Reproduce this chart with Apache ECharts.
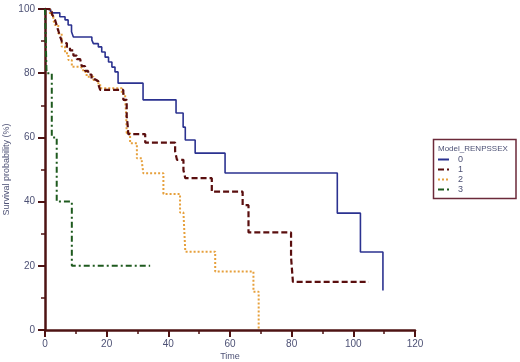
<!DOCTYPE html>
<html>
<head>
<meta charset="utf-8">
<script src="https://cdn.jsdelivr.net/npm/echarts@6/dist/echarts.min.js"></script>
<style>
  html, body { margin: 0; padding: 0; background: #fff; }
  #eChart { width: 520px; height: 362px; }
</style>
</head>
<body>
<div id="eChart"></div>
<script>
// survival curves (time, survival %)
var time0 = [0, 1.8, 4.8, 6.5, 7.5, 8.6, 9.2, 15.2, 15.7, 17.3, 18.4, 19.5, 20.6, 21.7, 22.7, 23.7, 31.8, 42.5, 44.8, 45.5, 48.7, 58.4, 94.8, 102.3, 109.6];
var surv0 = [100, 98.8, 97.6, 96.6, 95, 92.9, 91.3, 90.3, 89.2, 88.2, 86.6, 85, 83.5, 81.9, 80.4, 76.9, 71.7, 67.6, 63.2, 59.2, 55.1, 48.9, 36.4, 24.3, 12.3];

var time1 = [0, 1.5, 2.2, 2.8, 3.3, 3.9, 4.4, 4.9, 5.5, 6.1, 7.1, 8.1, 9.2, 10.3, 11.4, 11.9, 13.0, 14.0, 15.1, 16.2, 17.3, 17.9, 25.4, 26.5, 26.8, 27.0, 32.5, 42.2, 42.8, 44.9, 45.5, 54.1, 64.1, 66.0, 79.8, 80.4, 105];
var surv1 = [100, 99.2, 98.5, 97.5, 96.5, 94.5, 93.0, 91.4, 89.8, 89.3, 88.2, 87.1, 85.5, 84.4, 83.8, 82.2, 80.7, 79.6, 78.1, 77.5, 76.5, 74.8, 71.7, 66.5, 63.9, 61.0, 58.4, 55.6, 53.0, 49.8, 47.3, 43.1, 38.9, 30.4, 22.7, 15.0, 15.0];

var time2 = [0, 1.6, 2.7, 3.2, 4.3, 5.4, 6.5, 7.6, 8.7, 11.4, 12.4, 13.5, 15.7, 16.8, 17.9, 24.9, 26.0, 26.3, 26.5, 27.6, 29.8, 31.4, 31.9, 38.4, 43.8, 44.9, 45.5, 55.2, 67.6, 69.3];
var surv2 = [100, 98.1, 96.6, 95.0, 92.4, 88.3, 86.2, 84.1, 82.0, 81.5, 80.4, 78.9, 77.9, 76.9, 75.3, 73.5, 71.7, 67.6, 61.3, 58.2, 53.5, 52.4, 48.8, 42.4, 36.6, 36.1, 24.4, 18.2, 11.9, 0];

var time3 = [0, 0.5, 2.2, 3.8, 8.7, 34.1];
var surv3 = [100, 80, 60, 40, 20, 20];

var groups = ['0', '1', '2', '3'];
var xTicks = [0, 20, 40, 60, 80, 100, 120];
var yTicks = [0, 20, 40, 60, 80, 100];

var axisColor = '#4e1313';
var textColor = '#4d5175';

function pairs(t, s) {
    var out = [];
    for (var i = 0; i < t.length; i++) {
        out.push([t[i], s[i]]);
    }
    return out;
}

var myChart = echarts.init(document.getElementById('eChart'));

var axisCommon = {
    type: 'value',
    interval: 20,
    nameLocation: 'middle',
    nameMoveOverlap: false,
    nameTextStyle: { color: textColor, fontSize: 9, fontFamily: 'Liberation Sans' },
    axisLine: { show: true, lineStyle: { color: axisColor, width: 2.5 } },
    axisTick: { show: true, length: 7, lineStyle: { color: axisColor, width: 2 } },
    minorTick: { show: true, splitNumber: 2, length: 4, lineStyle: { color: axisColor, width: 1.5 } },
    splitLine: { show: false },
    axisLabel: { color: textColor, fontSize: 10, fontFamily: 'Liberation Sans' }
};

var option = {
    animation: false,
    backgroundColor: '#fff',
    grid: { left: 45, top: 9, width: 370, height: 321, containLabel: false, outerBoundsMode: 'none' },
    xAxis: echarts.util.merge({
        min: xTicks[0],
        max: xTicks[xTicks.length - 1],
        name: 'Time',
        nameGap: 22,
        axisLabel: { margin: 9 }
    }, axisCommon),
    yAxis: echarts.util.merge({
        min: yTicks[0],
        max: yTicks[yTicks.length - 1],
        name: 'Survival probability (%)',
        nameGap: 34,
        axisLabel: { margin: 10 }
    }, axisCommon),
    legend: {
        orient: 'vertical',
        left: 437,
        top: 155,
        padding: 0,
        itemGap: 1,
        itemWidth: 11,
        itemHeight: 6,
        data: groups,
        itemStyle: { opacity: 0 },
        textStyle: { color: textColor, fontSize: 9, lineHeight: 9, fontFamily: 'Liberation Sans', padding: [0, 0, 0, 4] }
    },
    graphic: [
        {
            type: 'rect',
            shape: { x: 433.5, y: 139.5, width: 82.5, height: 59 },
            style: { fill: 'none', stroke: '#6b2a3a', lineWidth: 1.5 }
        },
        {
            type: 'text',
            x: 438,
            y: 145,
            style: { text: 'Model_RENPSSEX', fill: textColor, fontSize: 8, fontFamily: 'Liberation Sans' }
        }
    ],
    series: [
        {
            name: groups[0], type: 'line', step: 'end', symbol: 'none',
            data: pairs(time0, surv0),
            lineStyle: { color: '#2b3290', width: 1.6, type: 'solid' },
            itemStyle: { color: '#2b3290' }
        },
        {
            name: groups[2], type: 'line', step: 'end', symbol: 'none',
            data: pairs(time2, surv2),
            lineStyle: { color: '#e6a03c', width: 2, type: [2, 2] },
            itemStyle: { color: '#e6a03c' }
        },
        {
            name: groups[1], type: 'line', step: 'end', symbol: 'none',
            data: pairs(time1, surv1),
            lineStyle: { color: '#5a0e0e', width: 2.2, type: [6, 3] },
            itemStyle: { color: '#5a0e0e' }
        },
        {
            name: groups[3], type: 'line', step: 'end', symbol: 'none',
            data: pairs(time3, surv3),
            lineStyle: { color: '#1e5a1e', width: 2, type: [6, 3, 2, 3] },
            itemStyle: { color: '#1e5a1e' }
        }
    ]
};

myChart.setOption(option);
</script>
</body>
</html>
